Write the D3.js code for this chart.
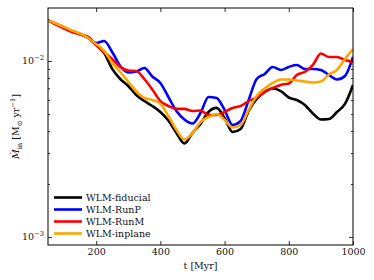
<!DOCTYPE html>
<html><head><meta charset="utf-8">
<script src="https://cdn.jsdelivr.net/npm/d3@7"></script>
<style>body{margin:0;background:#fff}svg{display:block}text{font-family:"DejaVu Serif",serif;fill:#111}</style>
</head><body>
<script>
const times = [50,75,100,125,150,175,200,225,250,275,300,325,350,375,400,425,450,475,500,525,550,575,600,625,650,675,700,725,750,775,800,825,850,875,900,925,950,975,1000];
const fiducial = [0.0170,0.01623,0.01550,0.01471,0.01424,0.01351,0.01233,0.01110,0.00901,0.00790,0.00721,0.00641,0.00592,0.00555,0.00513,0.00459,0.00390,0.00340,0.00390,0.00439,0.00513,0.00541,0.00474,0.00395,0.00411,0.00520,0.00608,0.00667,0.00698,0.00675,0.00620,0.00600,0.00562,0.00503,0.00465,0.00468,0.00513,0.00570,0.00731];
const runP = [0.0170,0.01623,0.01550,0.01471,0.01424,0.01360,0.01266,0.01299,0.01125,0.00937,0.00860,0.00872,0.00913,0.00816,0.00750,0.00624,0.00520,0.00465,0.00441,0.00506,0.00624,0.00616,0.00527,0.00433,0.00456,0.00600,0.00790,0.00844,0.00925,0.00889,0.00925,0.00949,0.00901,0.00901,0.00889,0.00833,0.00785,0.00822,0.01054];
const runM = [0.0170,0.01612,0.01530,0.01461,0.01415,0.01369,0.01233,0.01118,0.01026,0.00925,0.00883,0.00877,0.00790,0.00689,0.00592,0.00555,0.00534,0.00534,0.00520,0.00523,0.00493,0.00493,0.00513,0.00541,0.00555,0.00592,0.00620,0.00667,0.00703,0.00731,0.00745,0.00833,0.00866,0.00949,0.01103,0.01054,0.01054,0.01013,0.00987];
const inplane = [0.0170,0.01633,0.01561,0.01490,0.01433,0.01351,0.01249,0.01140,0.00974,0.00866,0.00760,0.00671,0.00616,0.00600,0.00570,0.00487,0.00406,0.00358,0.00390,0.00450,0.00481,0.00500,0.00462,0.00419,0.00433,0.00527,0.00633,0.00698,0.00750,0.00785,0.00785,0.00775,0.00765,0.00755,0.00765,0.00838,0.00889,0.01026,0.01170];
const seriesNames = ["WLM-fiducial","WLM-RunP","WLM-RunM","WLM-inplane"];
const seriesColors = ["#000000","#0000ff","#ff0000","#ffa500"];
const seriesValues = [fiducial, runP, runM, inplane];
const xTicks = [200,400,600,800,1000];
const yMajor = [1e-3,1e-2];
const yMinor = [2e-3,3e-3,4e-3,5e-3,6e-3,7e-3,8e-3,9e-3];

(function(){
const W=374,H=280, L=48, R=353, T=8, B=245;
const svg = d3.select("body").append("svg").attr("width",W).attr("height",H);
const x = d3.scaleLinear().domain([50,1000]).range([L,R]);
const y = d3.scaleLog().domain([0.0009,0.02]).range([B,T]);

svg.append("clipPath").attr("id","c").append("rect").attr("x",L).attr("y",T).attr("width",R-L).attr("height",B-T);
const g = svg.append("g");
const line = d3.line().x((d,i)=>x(times[i])).y(d=>y(d)).curve(d3.curveMonotoneX);
seriesValues.forEach((vals,k)=>{
  g.append("path").attr("d",line(vals)).attr("fill","none").attr("stroke",seriesColors[k])
   .attr("stroke-width",2.6).attr("stroke-linejoin","round").attr("clip-path","url(#c)");
});

const fs = 9.5;
const axB = d3.axisBottom(x).tickValues(xTicks).tickSize(-4).tickPadding(3).tickFormat(d3.format("d"));
const axT = d3.axisTop(x).tickValues(xTicks).tickSize(-4).tickFormat("");
const axL = d3.axisLeft(y).tickValues(yMajor).tickSize(-4).tickFormat("");
const axR = d3.axisRight(y).tickValues(yMajor).tickSize(-4).tickFormat("");
const axLm = d3.axisLeft(y).tickValues(yMinor).tickSize(-2).tickFormat("");
const axRm = d3.axisRight(y).tickValues(yMinor).tickSize(-2).tickFormat("");
function style(sel){ sel.select(".domain").remove(); sel.selectAll("line").attr("stroke","#000").attr("stroke-width",0.8); sel.selectAll("text").attr("font-size",fs).style("font-family",'"DejaVu Serif",serif').attr("fill","#111"); }
svg.append("g").attr("transform",`translate(0,${B})`).call(axB).call(style);
svg.append("g").attr("transform",`translate(0,${T})`).call(axT).call(style);
svg.append("g").attr("transform",`translate(${L},0)`).call(axL).call(style);
svg.append("g").attr("transform",`translate(${R},0)`).call(axR).call(style);
svg.append("g").attr("transform",`translate(${L},0)`).call(axLm).call(style);
svg.append("g").attr("transform",`translate(${R},0)`).call(axRm).call(style);
svg.append("rect").attr("x",L).attr("y",T).attr("width",R-L).attr("height",B-T).attr("fill","none").attr("stroke","#000").attr("stroke-width",1);

yMajor.forEach(v=>{
  const e = Math.round(Math.log10(v));
  const t = svg.append("text").attr("x",L-4).attr("y",y(v)+3.5).attr("text-anchor","end").attr("font-size",fs);
  t.append("tspan").text("10");
  t.append("tspan").attr("dy",-4).attr("font-size",6.8).text("\u2212"+Math.abs(e));
});

svg.append("text").attr("x",(L+R)/2).attr("y",269).attr("text-anchor","middle").attr("font-size",fs).text("t [Myr]");

const yl = svg.append("text").attr("transform",`translate(19,${(T+B)/2}) rotate(-90)`).attr("text-anchor","middle").attr("font-size",fs);
yl.append("tspan").attr("font-style","italic").text("M\u0307");
yl.append("tspan").attr("dy",2.5).attr("font-size",6.8).text("in");
yl.append("tspan").attr("dy",-2.5).text(" [M");
yl.append("tspan").attr("dy",2.5).attr("font-size",6.8).text("\u2299");
yl.append("tspan").attr("dy",-2.5).text(" yr");
yl.append("tspan").attr("dy",-4).attr("font-size",6.8).text("\u22121");
yl.append("tspan").attr("dy",4).text("]");

const lg = svg.append("g");
seriesNames.forEach((n,k)=>{
  const yy = 197.5 + k*12;
  lg.append("line").attr("x1",54).attr("x2",82).attr("y1",yy).attr("y2",yy).attr("stroke",seriesColors[k]).attr("stroke-width",2.6);
  lg.append("text").attr("x",86).attr("y",yy+3.4).attr("font-size",fs).text(n);
});
})();
</script>
</body></html>
